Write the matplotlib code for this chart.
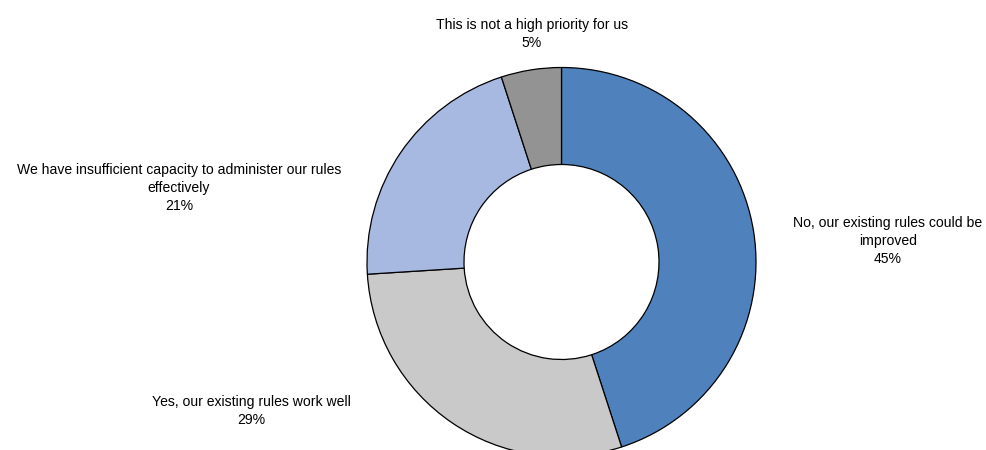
import matplotlib
matplotlib.use("Agg")
import matplotlib.pyplot as plt

# survey answers, clockwise from 12 o'clock
labels = [
    "No, our existing rules could be\nimproved",
    "Yes, our existing rules work well",
    "We have insufficient capacity to administer our rules\neffectively",
    "This is not a high priority for us",
]
shares = [45, 29, 21, 5]
colors = ["#4F81BD", "#C9C9C9", "#A7B9E1", "#939393"]

# label anchor points in pixel space (x, y from top)
label_pos = [(888, 241), (251, 411), (179, 188), (532, 34)]

W, H = 987, 450
fig = plt.figure(figsize=(W / 100, H / 100), dpi=100)
ax = fig.add_axes([0, 0, 1, 1])

ax.pie(shares, colors=colors, startangle=90, counterclock=False,
       center=(561.5, H - 262), radius=194.5, frame=True,
       wedgeprops=dict(width=97, edgecolor="black", linewidth=0.9))
ax.set_xlim(0, W)
ax.set_ylim(0, H)
ax.set_aspect("equal")
ax.axis("off")

for lab, val, (px, py) in zip(labels, shares, label_pos):
    ax.text(px, H - py, f"{lab}\n{val}%", ha="center", va="center",
            fontsize=10.1, family="Liberation Sans", linespacing=1.4,
            color="black")

fig.savefig("out.png", dpi=100)
